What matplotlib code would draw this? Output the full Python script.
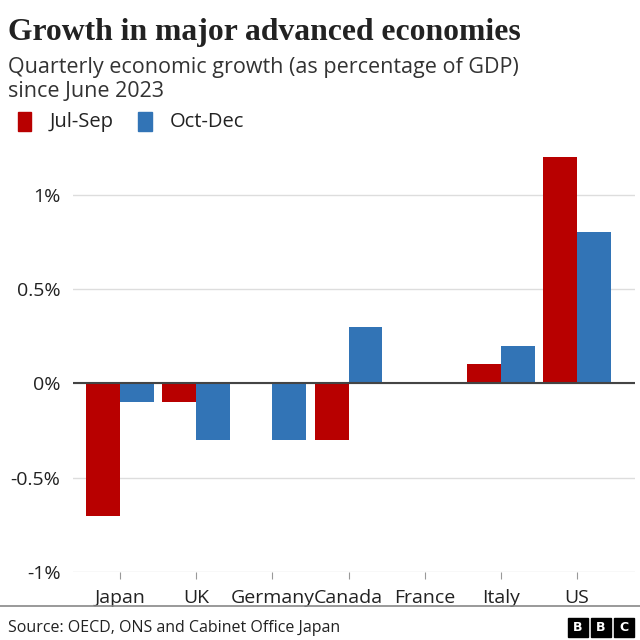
import matplotlib.pyplot as plt
from matplotlib.patches import Rectangle
import numpy as np

countries = ["Japan", "UK", "Germany", "Canada", "France", "Italy", "US"]
jul_sep = [-0.7, -0.1, 0.0, -0.3, 0.0, 0.1, 1.2]
oct_dec = [-0.1, -0.3, -0.3, 0.3, 0.0, 0.2, 0.8]
y_ticks = [-1, -0.5, 0, 0.5, 1]
y_labels = ["-1%", "-0.5%", "0%", "0.5%", "1%"]

RED = "#b80000"
BLUE = "#3274b6"

fig = plt.figure(figsize=(6.4, 6.4), dpi=100)
ax = fig.add_axes([0.114, 0.106, 0.878, 0.649])

x = np.arange(len(countries))
w = 0.445
ax.bar(x - w / 2, jul_sep, width=w, color=RED, zorder=3)
ax.bar(x + w / 2, oct_dec, width=w, color=BLUE, zorder=3)

ax.set_xlim(-0.62, 6.76)
ax.set_ylim(-1, 1.2)
ax.set_yticks(y_ticks)
ax.set_yticklabels(y_labels, fontsize=14, color="#222222", family="Open Sans")
ax.set_xticks(x)
ax.set_xticklabels(countries, fontsize=14, color="#222222", family="Open Sans")
ax.tick_params(axis="y", length=0, pad=9)
ax.tick_params(axis="x", length=5, color="#999999", pad=7)
for s in ax.spines.values():
    s.set_visible(False)
ax.grid(axis="y", color="#dddddd", linewidth=1, zorder=0)
ax.axhline(0, color="#444444", linewidth=1.5, zorder=4)

# title block
fig.text(0.0125, 0.949, "Growth in major advanced economies", fontsize=22.8,
         family="Liberation Serif", weight="bold", color="#222222", va="center")
fig.text(0.0125, 0.894, "Quarterly economic growth (as percentage of GDP)",
         fontsize=15.5, family="Open Sans", color="#333333", va="center")
fig.text(0.0125, 0.857, "since June 2023", fontsize=15.5, family="Open Sans",
         color="#333333", va="center")

# legend
fig.patches.append(Rectangle((0.028, 0.795), 0.021, 0.03, color=RED,
                             transform=fig.transFigure))
fig.text(0.078, 0.809, "Jul-Sep", fontsize=14.5, family="Open Sans",
         color="#222222", va="center")
fig.patches.append(Rectangle((0.216, 0.795), 0.021, 0.03, color=BLUE,
                             transform=fig.transFigure))
fig.text(0.266, 0.809, "Oct-Dec", fontsize=14.5, family="Open Sans",
         color="#222222", va="center")

# footer
fig.add_artist(plt.Line2D([0, 1], [0.053, 0.053], color="#888888",
                          linewidth=1.2, transform=fig.transFigure))
fig.text(0.0125, 0.018, "Source: OECD, ONS and Cabinet Office Japan",
         fontsize=11.5, family="Open Sans", color="#222222", va="center")
for i, letter in enumerate("BBC"):
    x0 = 0.888 + i * 0.036
    fig.patches.append(Rectangle((x0, 0.005), 0.03, 0.03, color="black",
                                 transform=fig.transFigure))
    fig.text(x0 + 0.015, 0.02, letter, fontsize=9, color="white",
             weight="bold", ha="center", va="center", family="DejaVu Sans")

fig.savefig("out.png", dpi=100)
